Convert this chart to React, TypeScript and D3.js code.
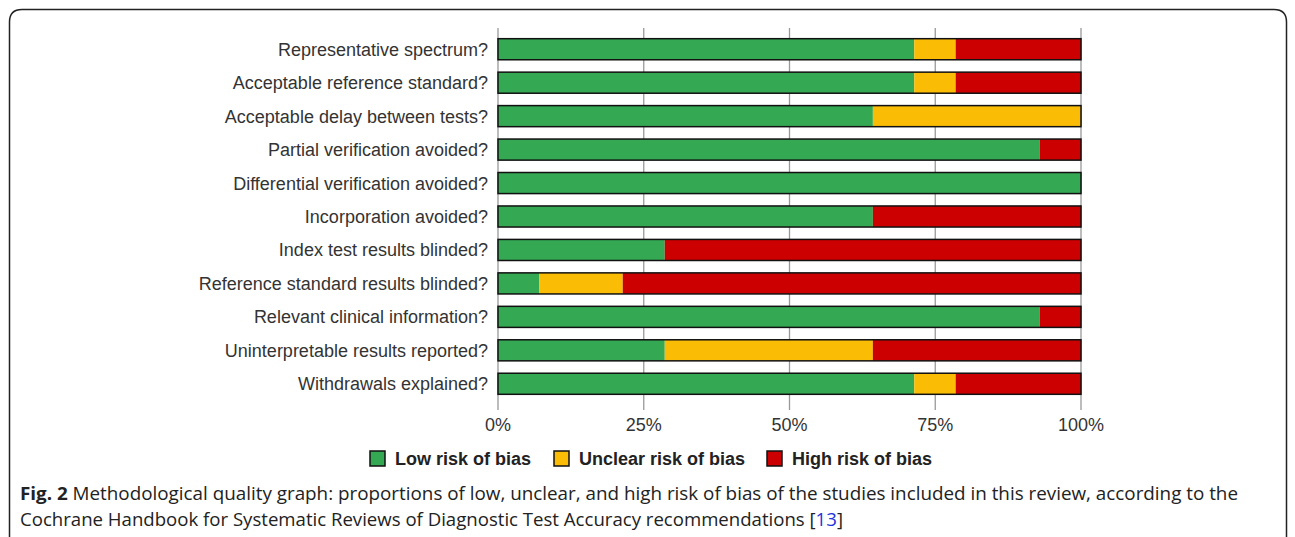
import React from "react";
import * as d3 from "d3";

const categories = [
  "Representative spectrum?",
  "Acceptable reference standard?",
  "Acceptable delay between tests?",
  "Partial verification avoided?",
  "Differential verification avoided?",
  "Incorporation avoided?",
  "Index test results blinded?",
  "Reference standard results blinded?",
  "Relevant clinical information?",
  "Uninterpretable results reported?",
  "Withdrawals explained?",
];
const lowRisk = [71.4, 71.4, 64.3, 92.9, 100, 64.3, 28.6, 7.1, 92.9, 28.6, 71.4];
const unclearRisk = [7.1, 7.1, 35.7, 0, 0, 0, 0, 14.3, 0, 35.7, 7.1];
const highRisk = [21.5, 21.5, 0, 7.1, 0, 35.7, 71.4, 78.6, 7.1, 35.7, 21.5];
const tickValues = [0, 25, 50, 75, 100];
const seriesNames = ["Low risk of bias", "Unclear risk of bias", "High risk of bias"];
const colors = ["#34a853", "#fbbc05", "#cc0000"];

export default function App() {
  const W = 1295, H = 537;
  const x = d3.scaleLinear().domain([0, 100]).range([498, 1081]);
  const y = d3.scaleBand().domain(categories).range([32, 401]).paddingInner(0.37).paddingOuter(0.2);
  const series = [lowRisk, unclearRisk, highRisk];
  const labelFont = "'Liberation Sans', Arial, sans-serif";
  const legendX = [370, 554, 767];
  return (
    <svg width={W} height={H} style={{ position: "absolute", left: 0, top: 0, background: "#fff" }}>
      <path d={`M9.5,${H + 5} V22 Q9.5,9.5 22,9.5 H1274 Q1286.5,9.5 1286.5,22 V${H + 5}`} fill="none" stroke="#222" strokeWidth={1.5} />
      {tickValues.map((t) => (
        <line key={t} x1={x(t)} x2={x(t)} y1={28} y2={410} stroke="#999" strokeWidth={1.3} />
      ))}
      {categories.map((c, i) => {
        let acc = 0;
        const yy = y(c)!;
        return (
          <g key={c}>
            <text x={488} y={yy + y.bandwidth() / 2} dy="0.36em" textAnchor="end" fontFamily={labelFont} fontSize={18} fill="#333">{c}</text>
            {series.map((s, k) => {
              const v = s[i];
              const x0 = x(acc);
              acc += v;
              if (v <= 0) return null;
              return <rect key={k} x={x0} y={yy} width={x(Math.min(acc, 100)) - x0} height={y.bandwidth()} fill={colors[k]} />;
            })}
            <rect x={x(0)} y={yy} width={x(100) - x(0)} height={y.bandwidth()} fill="none" stroke="#111" strokeWidth={1.5} />
          </g>
        );
      })}
      {tickValues.map((t) => (
        <text key={t} x={x(t)} y={431} textAnchor="middle" fontFamily={labelFont} fontSize={18} fill="#333">{t}%</text>
      ))}
      {seriesNames.map((n, k) => (
        <g key={n}>
          <rect x={legendX[k]} y={451} width={15} height={15} fill={colors[k]} stroke="#111" strokeWidth={1.5} />
          <text x={legendX[k] + 25} y={465} fontFamily={labelFont} fontSize={18} fontWeight="bold" fill="#222">{n}</text>
        </g>
      ))}
      <text x={20} y={500} fontFamily="'Open Sans', sans-serif" fontSize={18} fill="#222" textLength={1218} lengthAdjust="spacingAndGlyphs">
        <tspan fontWeight="bold">Fig. 2</tspan> Methodological quality graph: proportions of low, unclear, and high risk of bias of the studies included in this review, according to the
      </text>
      <text x={20} y={526} fontFamily="'Open Sans', sans-serif" fontSize={18} fill="#222" textLength={823} lengthAdjust="spacingAndGlyphs">
        Cochrane Handbook for Systematic Reviews of Diagnostic Test Accuracy recommendations [<tspan fill="#2233dd">13</tspan>]
      </text>
    </svg>
  );
}
